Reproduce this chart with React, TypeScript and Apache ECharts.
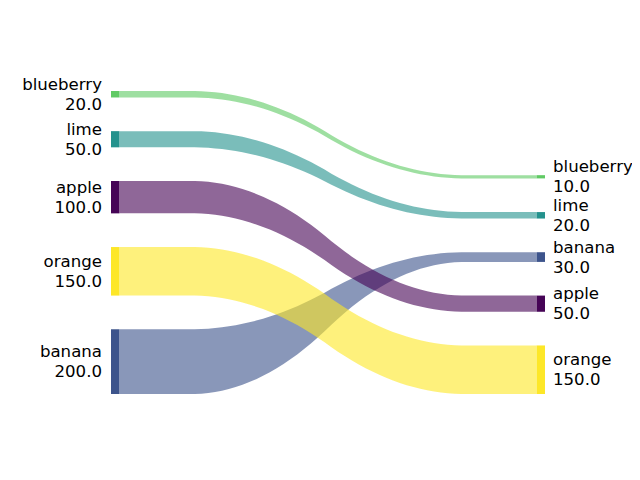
import React, { useEffect, useRef } from "react";
import * as echarts from "echarts";

// Node labels and weights, listed bottom to top
const leftLabels = ["banana", "orange", "apple", "lime", "blueberry"];
const leftWeights = [200, 150, 100, 50, 20];
const rightLabels = ["orange", "apple", "banana", "lime", "blueberry"];
const rightWeights = [150, 50, 30, 20, 10];

// Flows (drawing order)
const flowFrom = ["banana", "orange", "apple", "lime", "blueberry"];
const flowTo = ["banana", "orange", "apple", "lime", "blueberry"];
const flowLeftWeights = [200, 150, 100, 50, 20];
const flowRightWeights = [30, 150, 50, 20, 10];

const colorMap: Record<string, string> = {
  banana: "#3b528b",
  orange: "#fde725",
  apple: "#440154",
  lime: "#21918c",
  blueberry: "#5ec962",
};

const FONT = "DejaVu Sans";

type Node = { label: string; w: number; bottom: number; top: number };

function stack(labels: string[], weights: number[], gap: number): Node[] {
  let b = 0;
  return labels.map((l, i) => {
    const n = { label: l, w: weights[i], bottom: b, top: b + weights[i] };
    b += weights[i] + gap;
    return n;
  });
}

function smooth(a: number, b: number): number[] {
  let arr: number[] = [...Array(50).fill(a), ...Array(50).fill(b)];
  for (let k = 0; k < 2; k++) {
    const out: number[] = [];
    for (let i = 0; i + 20 <= arr.length; i++) {
      let s = 0;
      for (let j = 0; j < 20; j++) s += arr[i + j];
      out.push(s * 0.05);
    }
    arr = out;
  }
  return arr;
}

export default function App() {
  const ref = useRef<HTMLDivElement>(null);
  useEffect(() => {
    if (!ref.current) return;
    const chart = echarts.init(ref.current, undefined, { renderer: "svg" });

    const leftTotal = leftWeights.reduce((a, b) => a + b, 0);
    const rightTotal = rightWeights.reduce((a, b) => a + b, 0);
    const gap = 0.2 * Math.max(leftTotal, rightTotal);
    const leftNodes = stack(leftLabels, leftWeights, gap);
    const rightNodes = stack(rightLabels, rightWeights, gap);
    const yMax = Math.max(
      leftNodes[leftNodes.length - 1].top,
      rightNodes[rightNodes.length - 1].top
    );
    const barW = 0.02;

    // running bottoms for strips
    const lBottom: Record<string, number> = {};
    leftNodes.forEach((n) => (lBottom[n.label] = n.bottom));
    const rBottom: Record<string, number> = {};
    rightNodes.forEach((n) => (rBottom[n.label] = n.bottom));

    const strips = flowFrom.map((f, i) => {
      const t = flowTo[i];
      const ld = lBottom[f];
      const rd = rBottom[t];
      const ys_d = smooth(ld, rd);
      const ys_u = smooth(ld + flowLeftWeights[i], rd + flowRightWeights[i]);
      lBottom[f] += flowLeftWeights[i];
      rBottom[t] += flowRightWeights[i];
      return { from: f, ys_d, ys_u };
    });

    const stripSeries = {
      type: "custom",
      clip: false,
      silent: true,
      data: strips.map((_, i) => [0.5, 0, i]),
      renderItem: (params: any, api: any) => {
        const s = strips[params.dataIndex];
        const n = s.ys_d.length;
        const pts: number[][] = [];
        for (let k = 0; k < n; k++) pts.push(api.coord([k / (n - 1), s.ys_u[k]]));
        for (let k = n - 1; k >= 0; k--) pts.push(api.coord([k / (n - 1), s.ys_d[k]]));
        return {
          type: "polygon",
          shape: { points: pts },
          style: { fill: colorMap[s.from], opacity: 0.6 },
        };
      },
    };

    const nodeSeries = (nodes: Node[], side: "left" | "right") => ({
      type: "custom",
      clip: false,
      silent: true,
      data: nodes.map((_, i) => [0.5, 0, i]),
      renderItem: (params: any, api: any) => {
        const nd = nodes[params.dataIndex];
        const x0 = side === "left" ? -barW : 1;
        const x1 = side === "left" ? 0 : 1 + barW;
        const p0 = api.coord([x0, nd.top]);
        const p1 = api.coord([x1, nd.bottom]);
        const cy = (p0[1] + p1[1]) / 2;
        return {
          type: "group",
          children: [
            {
              type: "rect",
              shape: { x: p0[0], y: p0[1], width: p1[0] - p0[0], height: p1[1] - p0[1] },
              style: { fill: colorMap[nd.label], opacity: 0.99 },
            },
            {
              type: "text",
              x: side === "left" ? p0[0] - 9 : p1[0] + 8,
              y: cy,
              style: {
                text: nd.label + "\n" + nd.w.toFixed(1),
                fill: "#000000",
                font: `16.6px "${FONT}"`,
                fontFamily: FONT,
                fontSize: 16.6,
                lineHeight: 20,
                align: side === "left" ? "right" : "left",
                verticalAlign: "middle",
              },
            },
          ],
        };
      },
    });

    chart.setOption({
      animation: false,
      grid: { left: 103, right: 103, top: 83, bottom: 94, containLabel: false },
      xAxis: { type: "value", min: -barW, max: 1 + barW, show: false },
      yAxis: { type: "value", min: 0, max: yMax, show: false },
      series: [nodeSeries(leftNodes, "left"), nodeSeries(rightNodes, "right"), stripSeries],
    });
    return () => chart.dispose();
  }, []);
  return <div ref={ref} style={{ width: 640, height: 480 }} />;
}
